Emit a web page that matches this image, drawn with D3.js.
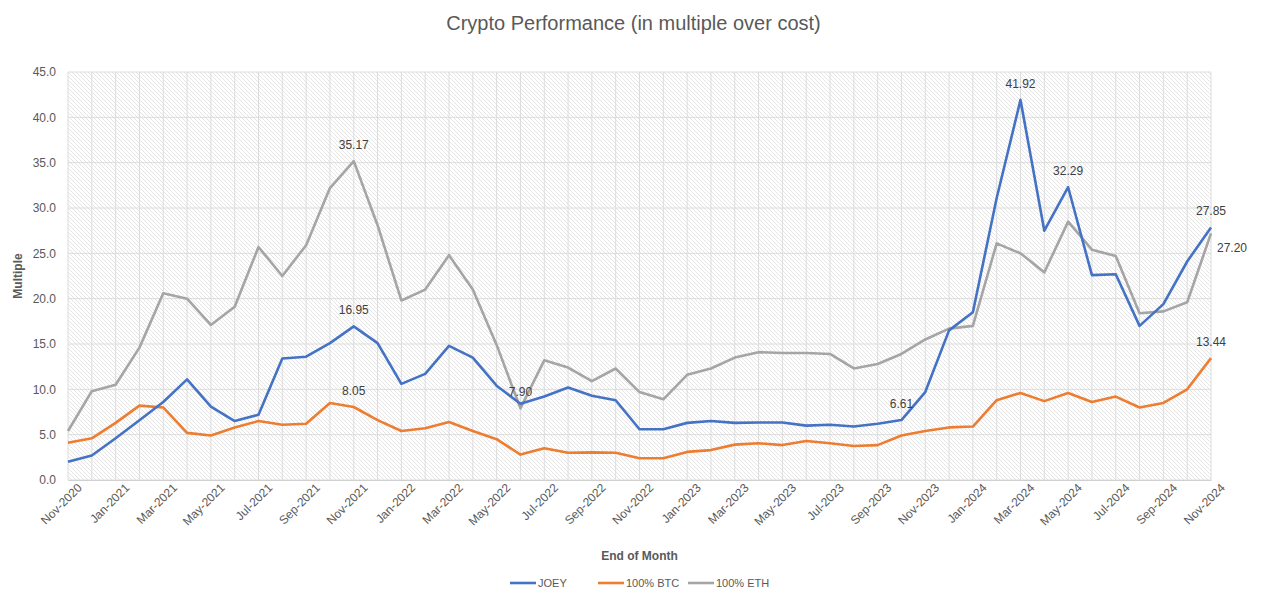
<!DOCTYPE html>
<html>
<head>
<meta charset="utf-8">
<script src="https://cdn.jsdelivr.net/npm/d3@7"></script>
<style>
body { margin: 0; background: #fff; }
text { font-family: "Liberation Sans", "Noto Sans", sans-serif; }
</style>
</head>
<body>
<div id="figure"></div>
<script>
var months = [];
var startYear = 2020, startMonth = 10; // Nov-2020
for (var k = 0; k < 49; k++) {
	months.push(new Date(startYear, startMonth + k, 1));
}

var joey = [2.0, 2.7, 4.6, 6.6, 8.6, 11.1, 8.1, 6.5, 7.2, 13.4, 13.6, 15.1, 16.95,
	15.1, 10.6, 11.7, 14.8, 13.5, 10.4, 8.4, 9.2, 10.2, 9.3, 8.8,
	5.6, 5.6, 6.3, 6.5, 6.3, 6.35, 6.35, 6.0, 6.1, 5.9, 6.2, 6.61,
	9.7, 16.5, 18.5, 31.1, 41.92, 27.5, 32.29, 22.6, 22.7, 17.0, 19.4, 24.1, 27.85];

var btc = [4.1, 4.6, 6.3, 8.2, 8.0, 5.2, 4.9, 5.8, 6.5, 6.1, 6.2, 8.5, 8.05,
	6.6, 5.4, 5.7, 6.4, 5.4, 4.5, 2.8, 3.5, 3.0, 3.05, 3.0,
	2.4, 2.4, 3.1, 3.3, 3.9, 4.05, 3.85, 4.3, 4.05, 3.75, 3.85, 4.9,
	5.4, 5.8, 5.9, 8.8, 9.6, 8.7, 9.6, 8.6, 9.2, 8.0, 8.5, 10.0, 13.44];

var eth = [5.4, 9.8, 10.5, 14.6, 20.6, 20.0, 17.1, 19.1, 25.7, 22.5, 25.9, 32.2, 35.17,
	28.1, 19.8, 21.0, 24.8, 21.0, 14.9, 7.90, 13.2, 12.4, 10.9, 12.3,
	9.7, 8.9, 11.6, 12.3, 13.5, 14.1, 14.0, 14.0, 13.9, 12.3, 12.8, 13.9,
	15.5, 16.7, 17.0, 26.1, 25.0, 22.9, 28.5, 25.4, 24.7, 18.4, 18.6, 19.6, 27.20];

var yTicks = [0, 5, 10, 15, 20, 25, 30, 35, 40, 45];

var series = [
	{name: "JOEY", values: joey, color: "#4472C4"},
	{name: "100% BTC", values: btc, color: "#ED7D31"},
	{name: "100% ETH", values: eth, color: "#A5A5A5"}
];

// point labels: series index, month index, placement
var pointLabels = [
	[2, 12, "above"], [0, 12, "above"], [1, 12, "above"], [2, 19, "above"],
	[0, 35, "above"], [0, 40, "above"], [0, 42, "above"], [0, 48, "above"],
	[2, 48, "right"], [1, 48, "above"]
];

var W = 1267, H = 590;
var margin = {left: 68, right: 56, top: 72, bottom: 110};
var pw = W - margin.left - margin.right;
var ph = H - margin.top - margin.bottom;

var svg = d3.select("#figure").append("svg").attr("width", W).attr("height", H);

var defs = svg.append("defs");
var pat = defs.append("pattern")
	.attr("id", "hatch")
	.attr("patternUnits", "userSpaceOnUse")
	.attr("width", 4).attr("height", 4);
pat.append("rect").attr("width", 4).attr("height", 4).attr("fill", "#fff");
pat.append("path")
	.attr("d", "M-1,-1 L5,5 M-1,3 L1,5 M3,-1 L5,1")
	.attr("stroke", "#e2e2e2").attr("stroke-width", 0.9);

var x = d3.scaleLinear().domain([0, months.length - 1]).range([0, pw]);
var y = d3.scaleLinear().domain([0, 45]).range([ph, 0]);

var g = svg.append("g").attr("transform", "translate(" + margin.left + "," + margin.top + ")");

g.append("rect").attr("width", pw).attr("height", ph).attr("fill", "url(#hatch)");

// vertical grid, one per month
g.selectAll("line.vgrid")
	.data(months)
	.enter()
	.append("line")
	.attr("class", "vgrid")
	.attr("x1", function(d, i) { return x(i); })
	.attr("x2", function(d, i) { return x(i); })
	.attr("y1", 0).attr("y2", ph)
	.attr("stroke", "#dcdcdc").attr("stroke-width", 1);

// horizontal grid
g.selectAll("line.hgrid")
	.data(yTicks)
	.enter()
	.append("line")
	.attr("class", "hgrid")
	.attr("x1", 0).attr("x2", pw)
	.attr("y1", function(d) { return y(d); })
	.attr("y2", function(d) { return y(d); })
	.attr("stroke", "#dcdcdc").attr("stroke-width", 1);

// y axis labels
var yAxis = d3.axisLeft(y).tickValues(yTicks).tickFormat(d3.format(".1f")).tickSize(0).tickPadding(12);
g.append("g").call(yAxis)
	.call(function(s) { s.select(".domain").remove(); })
	.selectAll("text")
	.attr("font-size", "12px").attr("fill", "#595959")
	.style("font-family", "Liberation Sans, sans-serif");

// x axis
var fmt = d3.timeFormat("%b-%Y");
var xAxis = d3.axisBottom(x)
	.tickValues(d3.range(0, months.length, 2))
	.tickFormat(function(i) { return fmt(months[i]); })
	.tickSize(0).tickPadding(6);
var xg = g.append("g").attr("transform", "translate(0," + ph + ")").call(xAxis);
xg.select(".domain").attr("stroke", "#d0d0d0");
xg.selectAll("text")
	.attr("font-size", "12px").attr("fill", "#595959")
	.style("font-family", "Liberation Sans, sans-serif")
	.attr("text-anchor", "end")
	.attr("dx", "4px").attr("dy", "10px")
	.attr("transform", "rotate(-45)");

// lines
var line = d3.line()
	.x(function(d, i) { return x(i); })
	.y(function(d) { return y(d); });

// draw ETH first then BTC then JOEY on top
[2, 1, 0].forEach(function(si) {
	g.append("path")
		.datum(series[si].values)
		.attr("fill", "none")
		.attr("stroke", series[si].color)
		.attr("stroke-width", 2.6)
		.attr("stroke-linejoin", "round")
		.attr("d", line);
});

// data labels
g.selectAll("text.plabel")
	.data(pointLabels)
	.enter()
	.append("text")
	.attr("class", "plabel")
	.attr("x", function(d) {
		var px = x(d[1]);
		if (d[2] == "right") return px + 6;
		return px;
	})
	.attr("y", function(d) {
		var py = y(series[d[0]].values[d[1]]);
		if (d[2] == "above") return py - 12;
		return py + 19;
	})
	.attr("text-anchor", function(d) {
		if (d[2] == "right") return "start";
		return "middle";
	})
	.attr("font-size", "12px")
	.attr("fill", "#404040")
	.text(function(d) { return series[d[0]].values[d[1]].toFixed(2); });

// title
svg.append("text")
	.attr("x", W / 2).attr("y", 30)
	.attr("text-anchor", "middle")
	.attr("font-size", "20px")
	.attr("fill", "#595959")
	.text("Crypto Performance (in multiple over cost)");

// axis titles
svg.append("text")
	.attr("transform", "translate(22," + (margin.top + ph / 2) + ") rotate(-90)")
	.attr("text-anchor", "middle")
	.attr("font-size", "12px").attr("font-weight", "bold")
	.attr("fill", "#595959")
	.text("Multiple");

svg.append("text")
	.attr("x", margin.left + pw / 2).attr("y", 560)
	.attr("text-anchor", "middle")
	.attr("font-size", "12px").attr("font-weight", "bold")
	.attr("fill", "#595959")
	.text("End of Month");

// legend
var legendX = [510, 598, 688];
var leg = svg.selectAll("g.legend")
	.data(series)
	.enter()
	.append("g")
	.attr("class", "legend")
	.attr("transform", function(d, i) { return "translate(" + legendX[i] + ",583)"; });
leg.append("line")
	.attr("x1", 0).attr("x2", 26).attr("y1", 0).attr("y2", 0)
	.attr("stroke", function(d) { return d.color; })
	.attr("stroke-width", 2.6);
leg.append("text")
	.attr("x", 28).attr("y", 4)
	.attr("font-size", "11px").attr("fill", "#595959")
	.text(function(d) { return d.name; });
</script>
</body>
</html>
